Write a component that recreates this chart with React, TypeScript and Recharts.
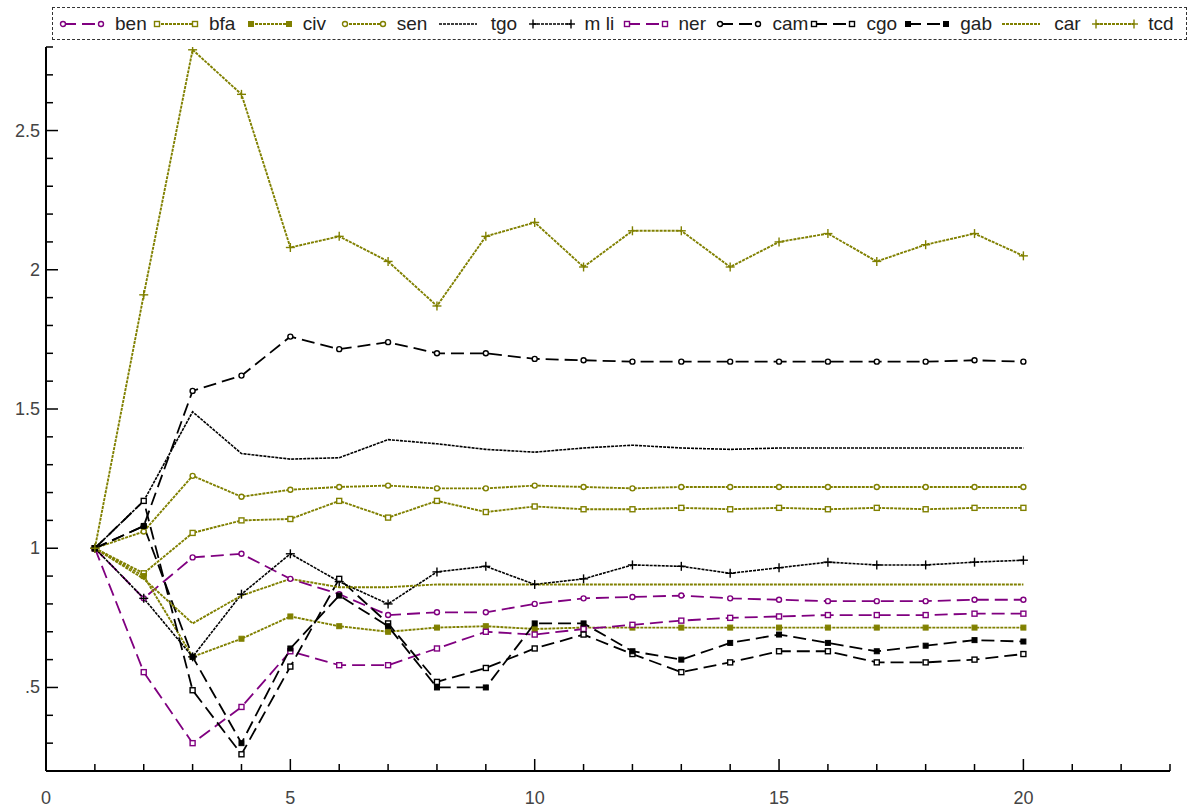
import React from 'react'
import { LineChart, Line, XAxis, YAxis } from 'recharts'

const OLIVE = '#808000'
const PURPLE = '#800080'
const BLACK = '#000000'

const years = [1, 2, 3, 4, 5, 6, 7, 8, 9, 10, 11, 12, 13, 14, 15, 16, 17, 18, 19, 20]

const ben = [1.0, 0.82, 0.967, 0.98, 0.89, 0.835, 0.76, 0.77, 0.77, 0.8, 0.82, 0.825, 0.83, 0.82, 0.815, 0.81, 0.81, 0.81, 0.815, 0.815]
const bfa = [1.0, 0.91, 1.055, 1.1, 1.105, 1.17, 1.11, 1.17, 1.13, 1.15, 1.14, 1.14, 1.145, 1.14, 1.145, 1.14, 1.145, 1.14, 1.145, 1.145]
const civ = [1.0, 0.9, 0.61, 0.675, 0.755, 0.72, 0.7, 0.715, 0.72, 0.71, 0.715, 0.715, 0.715, 0.715, 0.715, 0.715, 0.715, 0.715, 0.715, 0.715]
const sen = [1.0, 1.06, 1.26, 1.185, 1.21, 1.22, 1.225, 1.215, 1.215, 1.225, 1.22, 1.215, 1.22, 1.22, 1.22, 1.22, 1.22, 1.22, 1.22, 1.22]
const tgo = [1.0, 1.17, 1.49, 1.34, 1.32, 1.325, 1.39, 1.375, 1.355, 1.345, 1.36, 1.37, 1.36, 1.355, 1.36, 1.36, 1.36, 1.36, 1.36, 1.36]
const mli = [1.0, 0.82, 0.61, 0.835, 0.98, 0.88, 0.8, 0.915, 0.935, 0.87, 0.89, 0.94, 0.935, 0.91, 0.93, 0.95, 0.94, 0.94, 0.95, 0.957]
const ner = [1.0, 0.555, 0.3, 0.43, 0.63, 0.58, 0.58, 0.64, 0.7, 0.69, 0.71, 0.725, 0.74, 0.75, 0.755, 0.76, 0.76, 0.76, 0.765, 0.765]
const cam = [1.0, 1.08, 1.565, 1.62, 1.76, 1.715, 1.74, 1.7, 1.7, 1.68, 1.675, 1.67, 1.67, 1.67, 1.67, 1.67, 1.67, 1.67, 1.675, 1.67]
const cgo = [1.0, 1.17, 0.49, 0.26, 0.575, 0.89, 0.73, 0.52, 0.57, 0.64, 0.69, 0.62, 0.555, 0.59, 0.63, 0.63, 0.59, 0.59, 0.6, 0.62]
const gab = [1.0, 1.08, 0.61, 0.3, 0.64, 0.83, 0.72, 0.5, 0.5, 0.73, 0.73, 0.63, 0.6, 0.66, 0.69, 0.66, 0.63, 0.65, 0.67, 0.665]
const car = [1.0, 0.89, 0.73, 0.83, 0.89, 0.86, 0.86, 0.87, 0.87, 0.87, 0.87, 0.87, 0.87, 0.87, 0.87, 0.87, 0.87, 0.87, 0.87, 0.87]
const tcd = [1.0, 1.91, 2.79, 2.63, 2.08, 2.12, 2.03, 1.87, 2.12, 2.17, 2.01, 2.14, 2.14, 2.01, 2.1, 2.13, 2.03, 2.09, 2.13, 2.05]

const xTicks = [0, 1, 2, 3, 4, 5, 6, 7, 8, 9, 10, 11, 12, 13, 14, 15, 16, 17, 18, 19, 20, 21, 22, 23]
const xLabels: Record<number, string> = { 0: '0', 5: '5', 10: '10', 15: '15', 20: '20' }
const yTicks = [0.2, 0.3, 0.4, 0.5, 0.6, 0.7, 0.8, 0.9, 1.0, 1.1, 1.2, 1.3, 1.4, 1.5, 1.6, 1.7, 1.8, 1.9, 2.0, 2.1, 2.2, 2.3, 2.4, 2.5, 2.6, 2.7, 2.8]
const yLabels: Record<string, string> = { '0.5': '.5', '1': '1', '1.5': '1.5', '2': '2', '2.5': '2.5' }

type Shape = 'circle' | 'square' | 'filledSquare' | 'plus' | 'none'

interface SeriesDef {
  key: string
  values: number[]
  color: string
  dash: string
  shape: Shape
  width: number
}

const DOT = '3 1'
const DASH = '13 6'

const series: SeriesDef[] = [
  { key: 'ben', values: ben, color: PURPLE, dash: DASH, shape: 'circle', width: 1.8 },
  { key: 'bfa', values: bfa, color: OLIVE, dash: DOT, shape: 'square', width: 1.9 },
  { key: 'civ', values: civ, color: OLIVE, dash: DOT, shape: 'filledSquare', width: 1.9 },
  { key: 'sen', values: sen, color: OLIVE, dash: DOT, shape: 'circle', width: 1.9 },
  { key: 'tgo', values: tgo, color: BLACK, dash: DOT, shape: 'none', width: 1.6 },
  { key: 'mli', values: mli, color: BLACK, dash: DOT, shape: 'plus', width: 1.6 },
  { key: 'ner', values: ner, color: PURPLE, dash: DASH, shape: 'square', width: 1.8 },
  { key: 'cam', values: cam, color: BLACK, dash: DASH, shape: 'circle', width: 1.8 },
  { key: 'cgo', values: cgo, color: BLACK, dash: DASH, shape: 'square', width: 1.8 },
  { key: 'gab', values: gab, color: BLACK, dash: DASH, shape: 'filledSquare', width: 1.8 },
  { key: 'car', values: car, color: OLIVE, dash: DOT, shape: 'none', width: 1.9 },
  { key: 'tcd', values: tcd, color: OLIVE, dash: DOT, shape: 'plus', width: 1.9 },
]

const data = years.map((x, i) => {
  const row: Record<string, number> = { x }
  series.forEach(s => { row[s.key] = s.values[i] })
  return row
})

const FONT = '"Liberation Sans", Arial, sans-serif'

function Marker({ cx, cy, shape, color }: { cx: number; cy: number; shape: Shape; color: string }) {
  if (shape === 'none') return null
  if (shape === 'circle')
    return <circle cx={cx} cy={cy} r={2.5} fill="#fff" stroke={color} strokeWidth={1.4} />
  if (shape === 'square')
    return <rect x={cx - 2.5} y={cy - 2.5} width={5} height={5} fill="#fff" stroke={color} strokeWidth={1.4} />
  if (shape === 'filledSquare')
    return <rect x={cx - 2.5} y={cy - 2.5} width={5} height={5} fill={color} stroke={color} strokeWidth={1} />
  return (
    <g stroke={color} strokeWidth={1.4}>
      <line x1={cx - 4.5} y1={cy} x2={cx + 4.5} y2={cy} />
      <line x1={cx} y1={cy - 4.5} x2={cx} y2={cy + 4.5} />
    </g>
  )
}

function XTick(props: any) {
  const { x, y, payload } = props
  const v = payload.value as number
  const major = v % 5 === 0
  return (
    <g>
      <line x1={x} y1={y} x2={x} y2={y - (major ? 12 : 7)} stroke="#000" strokeWidth={1.5} />
      {xLabels[v] !== undefined && (
        <text x={x} y={y + 33} textAnchor="middle" fontSize={18} fontFamily={FONT} fill="#444">{xLabels[v]}</text>
      )}
    </g>
  )
}

function YTick(props: any) {
  const { x, y, payload } = props
  const v = Math.round((payload.value as number) * 10) / 10
  const label = yLabels[String(v)]
  return (
    <g>
      <line x1={x} y1={y} x2={x + (label ? 12 : 7)} y2={y} stroke="#000" strokeWidth={1.5} />
      {label !== undefined && (
        <text x={x - 6} y={y + 6} textAnchor="end" fontSize={18} fontFamily={FONT} fill="#444">{label}</text>
      )}
    </g>
  )
}

function LegendBox() {
  return (
    <div
      style={{
        position: 'absolute', left: 52, top: 7, width: 1135, height: 33, boxSizing: 'border-box',
        border: '1.5px dashed #333', display: 'flex', alignItems: 'center', paddingLeft: 6,
        fontFamily: FONT, fontSize: 19, color: '#222',
      }}
    >
      {series.map(s => (
        <div key={s.key} style={{ display: 'flex', alignItems: 'center', width: 94.3 }}>
          <svg width={46} height={14} style={{ marginRight: 10 }}>
            <line x1={4} y1={7} x2={42} y2={7} stroke={s.color} strokeWidth={s.width} strokeDasharray={s.dash} />
            <Marker cx={4} cy={7} shape={s.shape} color={s.color} />
            <Marker cx={42} cy={7} shape={s.shape} color={s.color} />
          </svg>
          <span>{s.key === 'mli' ? 'm li' : s.key}</span>
        </div>
      ))}
    </div>
  )
}

export default function App() {
  return (
    <div style={{ position: 'absolute', left: 0, top: 0, width: 1197, height: 810, background: '#fff' }}>
      <LegendBox />
      <LineChart width={1197} height={810} data={data} margin={{ top: 47, right: 27, bottom: 0, left: 0 }}>
        <XAxis
          type="number"
          dataKey="x"
          domain={[0, 23]}
          ticks={xTicks}
          interval={0}
          height={39}
          tickSize={0}
          tickMargin={0}
          tick={<XTick />}
          axisLine={{ stroke: '#000', strokeWidth: 2 }}
          allowDataOverflow
        />
        <YAxis
          type="number"
          domain={[0.2, 2.8]}
          ticks={yTicks}
          interval={0}
          width={46}
          tickSize={0}
          tickMargin={0}
          tick={<YTick />}
          axisLine={{ stroke: '#000', strokeWidth: 2 }}
          allowDataOverflow
        />
        {series.map(s => (
          <Line
            key={s.key}
            type="linear"
            dataKey={s.key}
            stroke={s.color}
            strokeWidth={s.width}
            strokeDasharray={s.dash}
            isAnimationActive={false}
            activeDot={false}
            dot={(p: any) => (
              <g key={`${s.key}-${p.index}`}>
                <Marker cx={p.cx} cy={p.cy} shape={s.shape} color={s.color} />
              </g>
            )}
          />
        ))}
      </LineChart>
    </div>
  )
}
